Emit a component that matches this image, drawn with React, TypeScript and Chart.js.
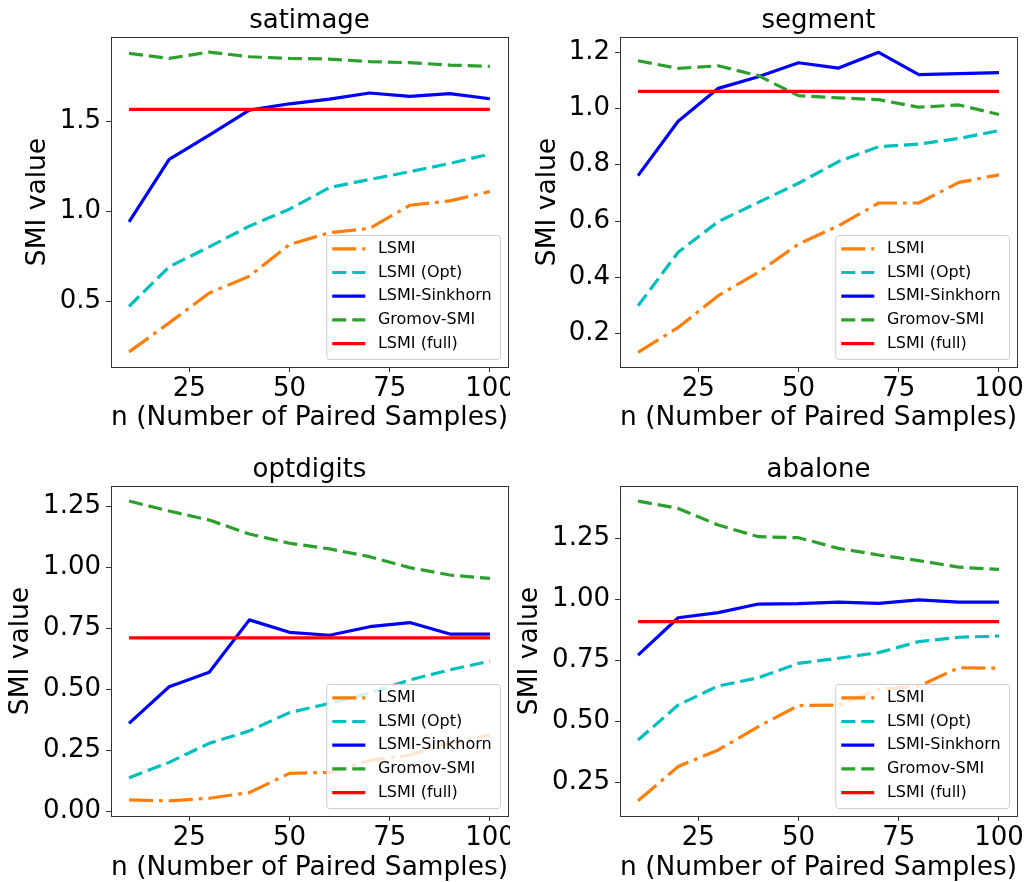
import React, { useEffect, useRef } from "react";
import { Chart, registerables } from "chart.js";

Chart.register(...registerables);

const FONT = "'DejaVu Sans', 'Liberation Sans', sans-serif";

// ---------- data ----------
const nSamples = [10, 20, 30, 40, 50, 60, 70, 80, 90, 100];
const seriesNames = ["LSMI", "LSMI (Opt)", "LSMI-Sinkhorn", "Gromov-SMI", "LSMI (full)"];
const xTickValues = [25, 50, 75, 100];

const satimageLSMI = [0.219, 0.38, 0.546, 0.639, 0.815, 0.881, 0.904, 1.033, 1.057, 1.109];
const satimageOpt = [0.472, 0.691, 0.802, 0.917, 1.011, 1.131, 1.176, 1.219, 1.265, 1.317];
const satimageSinkhorn = [0.941, 1.287, 1.422, 1.561, 1.596, 1.622, 1.656, 1.637, 1.652, 1.624];
const satimageGromov = [1.876, 1.848, 1.883, 1.857, 1.848, 1.844, 1.83, 1.824, 1.811, 1.804];
const satimageFull = [1.565, 1.565, 1.565, 1.565, 1.565, 1.565, 1.565, 1.565, 1.565, 1.565];
const satimageYTicks = [0.5, 1.0, 1.5];
const satimageYLabels = ["0.5", "1.0", "1.5"];

const segmentLSMI = [0.134, 0.222, 0.335, 0.418, 0.518, 0.583, 0.664, 0.664, 0.737, 0.764];
const segmentOpt = [0.299, 0.489, 0.598, 0.666, 0.734, 0.811, 0.864, 0.873, 0.893, 0.921];
const segmentSinkhorn = [0.761, 0.954, 1.071, 1.112, 1.162, 1.143, 1.199, 1.12, 1.123, 1.127];
const segmentGromov = [1.169, 1.142, 1.151, 1.116, 1.045, 1.037, 1.031, 1.004, 1.012, 0.978];
const segmentFull = [1.06, 1.06, 1.06, 1.06, 1.06, 1.06, 1.06, 1.06, 1.06, 1.06];
const segmentYTicks = [0.2, 0.4, 0.6, 0.8, 1.0, 1.2];
const segmentYLabels = ["0.2", "0.4", "0.6", "0.8", "1.0", "1.2"];

const optdigitsLSMI = [0.048, 0.044, 0.055, 0.078, 0.157, 0.161, 0.21, 0.232, 0.282, 0.314];
const optdigitsOpt = [0.139, 0.202, 0.28, 0.331, 0.406, 0.444, 0.486, 0.54, 0.581, 0.617];
const optdigitsSinkhorn = [0.362, 0.512, 0.571, 0.786, 0.735, 0.723, 0.758, 0.775, 0.728, 0.728];
const optdigitsGromov = [1.273, 1.232, 1.195, 1.138, 1.1, 1.077, 1.045, 1.0, 0.97, 0.956];
const optdigitsFull = [0.712, 0.712, 0.712, 0.712, 0.712, 0.712, 0.712, 0.712, 0.712, 0.712];
const optdigitsYTicks = [0.0, 0.25, 0.5, 0.75, 1.0, 1.25];
const optdigitsYLabels = ["0.00", "0.25", "0.50", "0.75", "1.00", "1.25"];

const abaloneLSMI = [0.176, 0.316, 0.384, 0.48, 0.566, 0.568, 0.632, 0.646, 0.721, 0.719];
const abaloneOpt = [0.425, 0.568, 0.646, 0.68, 0.739, 0.76, 0.783, 0.828, 0.846, 0.851];
const abaloneSinkhorn = [0.773, 0.926, 0.947, 0.982, 0.984, 0.99, 0.985, 0.999, 0.99, 0.99];
const abaloneGromov = [1.404, 1.374, 1.306, 1.258, 1.254, 1.21, 1.183, 1.16, 1.133, 1.124];
const abaloneFull = [0.91, 0.91, 0.91, 0.91, 0.91, 0.91, 0.91, 0.91, 0.91, 0.91];
const abaloneYTicks = [0.25, 0.5, 0.75, 1.0, 1.25];
const abaloneYLabels = ["0.25", "0.50", "0.75", "1.00", "1.25"];

// ---------- styles ----------
const LW = 3.2;
const seriesStyles = [
  { color: "#ff7f0e", dash: [24, 6, 3.75, 6] },
  { color: "#00bfbf", dash: [14, 6] },
  { color: "#0000ff", dash: [] as number[] },
  { color: "#2ca02c", dash: [14, 6] },
  { color: "#ff0000", dash: [] as number[] },
];

type PanelCfg = {
  title: string;
  series: number[][];
  yTicks: number[];
  yLabels: string[];
  yMin: number;
  yMax: number;
  left: number;
  top: number;
  w: number;
  h: number;
  padTop: number;
  padRight: number;
  yAxisW: number;
  xAxisH: number;
  yTitlePad: number;
  xTitlePad: number;
};

const panels: PanelCfg[] = [
  {
    title: "satimage",
    series: [satimageLSMI, satimageOpt, satimageSinkhorn, satimageGromov, satimageFull],
    yTicks: satimageYTicks, yLabels: satimageYLabels, yMin: 0.1352, yMax: 1.9667,
    left: 0, top: 0, w: 510, h: 440, padTop: 37, padRight: 2, yAxisW: 111, xAxisH: 73,
    yTitlePad: 22.4, xTitlePad: 5.4,
  },
  {
    title: "segment",
    series: [segmentLSMI, segmentOpt, segmentSinkhorn, segmentGromov, segmentFull],
    yTicks: segmentYTicks, yLabels: segmentYLabels, yMin: 0.0817, yMax: 1.2533,
    left: 510, top: 0, w: 517, h: 440, padTop: 37, padRight: 10, yAxisW: 110, xAxisH: 73,
    yTitlePad: 21.9, xTitlePad: 5.4,
  },
  {
    title: "optdigits",
    series: [optdigitsLSMI, optdigitsOpt, optdigitsSinkhorn, optdigitsGromov, optdigitsFull],
    yTicks: optdigitsYTicks, yLabels: optdigitsYLabels, yMin: -0.0178, yMax: 1.3347,
    left: 0, top: 440, w: 510, h: 450, padTop: 46, padRight: 2, yAxisW: 111, xAxisH: 74,
    yTitlePad: 5.4, xTitlePad: 5.4,
  },
  {
    title: "abalone",
    series: [abaloneLSMI, abaloneOpt, abaloneSinkhorn, abaloneGromov, abaloneFull],
    yTicks: abaloneYTicks, yLabels: abaloneYLabels, yMin: 0.1134, yMax: 1.4658,
    left: 510, top: 440, w: 517, h: 450, padTop: 46, padRight: 10, yAxisW: 110, xAxisH: 74,
    yTitlePad: 3.9, xTitlePad: 5.4,
  },
];

function makeDecorPlugin(title: string) {
  return {
    id: "decor",
    afterDatasetsDraw(chart: any) {
      const { ctx, chartArea: a } = chart;
      ctx.save();
      ctx.strokeStyle = "#333333";
      ctx.lineWidth = 1;
      ctx.setLineDash([]);
      ctx.strokeRect(Math.round(a.left) + 0.5, Math.round(a.top) + 0.5, Math.round(a.right - a.left), Math.round(a.bottom - a.top));
      ctx.restore();
    },
    afterDraw(chart: any) {
      const { ctx, chartArea: a } = chart;
      ctx.save();
      // title
      ctx.font = `26px ${FONT}`;
      ctx.fillStyle = "#000";
      ctx.textAlign = "center";
      ctx.textBaseline = "alphabetic";
      ctx.fillText(title, (a.left + a.right) / 2, a.top - 9);

      // legend
      ctx.font = `16px ${FONT}`;
      const metas = chart.data.datasets;
      let maxW = 0;
      metas.forEach((ds: any) => {
        maxW = Math.max(maxW, ctx.measureText(ds.label).width);
      });
      const boxW = 52 + maxW + 8;
      const boxH = 124;
      const x0 = a.right - 8 - boxW;
      const y0 = a.bottom - 8 - boxH;
      ctx.beginPath();
      (ctx as any).roundRect(x0 + 0.5, y0 + 0.5, boxW, boxH, 3);
      ctx.fillStyle = "rgba(255,255,255,0.8)";
      ctx.fill();
      ctx.strokeStyle = "#cccccc";
      ctx.lineWidth = 1;
      ctx.stroke();
      metas.forEach((ds: any, i: number) => {
        const cy = y0 + 13.8 + i * 23.7;
        ctx.beginPath();
        ctx.setLineDash(ds.borderDash || []);
        ctx.strokeStyle = ds.borderColor;
        ctx.lineWidth = ds.borderWidth;
        ctx.lineCap = "butt";
        ctx.moveTo(x0 + 6, cy);
        ctx.lineTo(x0 + 39, cy);
        ctx.stroke();
        ctx.setLineDash([]);
        ctx.fillStyle = "#000";
        ctx.textAlign = "left";
        ctx.textBaseline = "middle";
        ctx.fillText(ds.label, x0 + 51.7, cy);
      });
      ctx.restore();
    },
  };
}

function Panel({ cfg }: { cfg: PanelCfg }) {
  const ref = useRef<HTMLCanvasElement>(null);
  useEffect(() => {
    if (!ref.current) return;
    const datasets = cfg.series.map((vals, i) => ({
      label: seriesNames[i],
      data: nSamples.map((n, j) => ({ x: n, y: vals[j] })),
      borderColor: seriesStyles[i].color,
      backgroundColor: seriesStyles[i].color,
      borderDash: seriesStyles[i].dash,
      borderWidth: LW,
      borderJoinStyle: "round" as const,
      borderCapStyle: "butt" as const,
      pointRadius: 0,
      pointHoverRadius: 0,
      tension: 0,
      fill: false,
      order: 5 - i,
    }));
    const tickFont = { family: FONT, size: 26 };
    const chart = new Chart(ref.current, {
      type: "line",
      data: { datasets },
      options: {
        animation: false,
        responsive: false,
        devicePixelRatio: 1,
        events: [],
        layout: { padding: { top: cfg.padTop, right: cfg.padRight, left: 0, bottom: 0 } },
        plugins: { legend: { display: false }, tooltip: { enabled: false }, title: { display: false } },
        scales: {
          x: {
            type: "linear",
            min: 5.5,
            max: 104.5,
            bounds: "data",
            afterBuildTicks: (s: any) => {
              s.ticks = xTickValues.map((v) => ({ value: v }));
            },
            afterFit: (s: any) => {
              s.height = cfg.xAxisH;
              s.paddingLeft = 0;
              s.paddingRight = 0;
            },
            ticks: {
              font: tickFont,
              color: "#000",
              padding: 1.5,
              maxRotation: 0,
              autoSkip: false,
              callback: (v: any) => String(v),
            },
            grid: { display: true, drawOnChartArea: false, drawTicks: true, tickLength: 5, color: "#333333", lineWidth: 1 },
            border: { display: false },
            title: {
              display: true,
              text: "n (Number of Paired Samples)",
              font: { family: FONT, size: 27 },
              color: "#000",
              padding: { top: 0, bottom: cfg.xTitlePad },
            },
          },
          y: {
            type: "linear",
            min: cfg.yMin,
            max: cfg.yMax,
            bounds: "data",
            afterBuildTicks: (s: any) => {
              s.ticks = cfg.yTicks.map((v) => ({ value: v }));
            },
            afterFit: (s: any) => {
              s.width = cfg.yAxisW;
              s.paddingTop = 0;
              s.paddingBottom = 0;
            },
            ticks: {
              font: tickFont,
              color: "#000",
              padding: 5,
              autoSkip: false,
              callback: (_v: any, idx: number) => cfg.yLabels[idx],
            },
            grid: { display: true, drawOnChartArea: false, drawTicks: true, tickLength: 5, color: "#333333", lineWidth: 1 },
            border: { display: false },
            title: {
              display: true,
              text: "SMI value",
              font: { family: FONT, size: 26.5 },
              color: "#000",
              padding: { top: cfg.yTitlePad, bottom: 0 },
            },
          },
        },
      },
      plugins: [makeDecorPlugin(cfg.title)],
    } as any);
    return () => chart.destroy();
  }, [cfg]);
  return (
    <canvas
      ref={ref}
      width={cfg.w}
      height={cfg.h}
      style={{ position: "absolute", left: cfg.left, top: cfg.top, width: cfg.w, height: cfg.h }}
    />
  );
}

export default function App() {
  return (
    <div
      style={{
        position: "fixed",
        left: 0,
        top: 0,
        width: 1027,
        height: 882,
        overflow: "hidden",
        background: "#ffffff",
      }}
    >
      {panels.map((p) => (
        <Panel key={p.title} cfg={p} />
      ))}
    </div>
  );
}
